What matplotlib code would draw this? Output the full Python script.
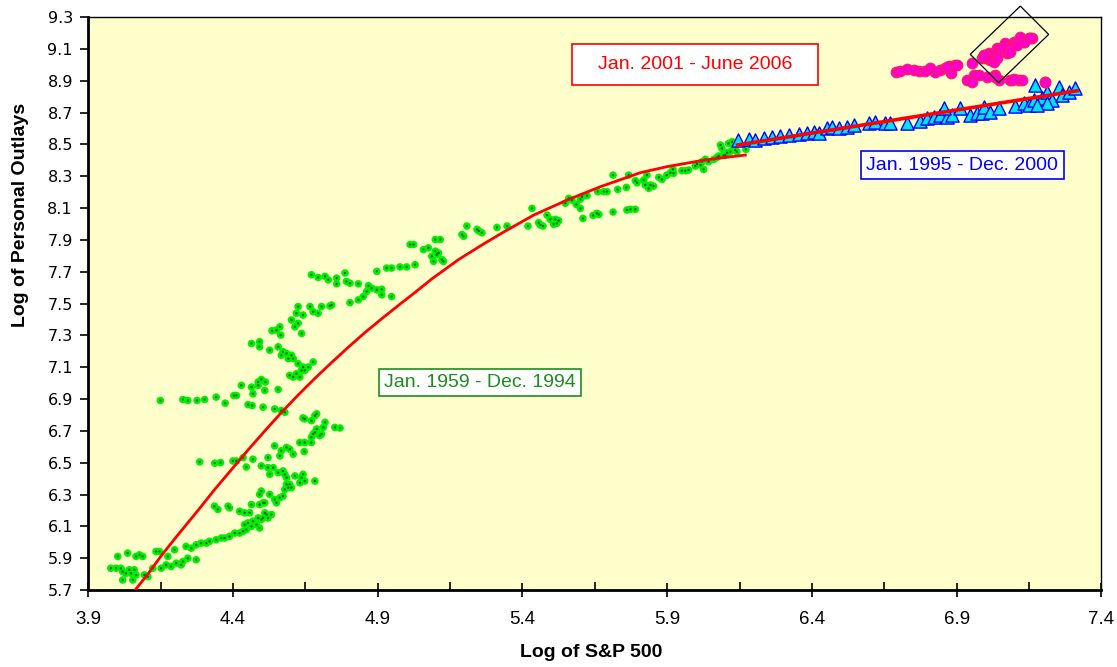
import numpy as np
import matplotlib
matplotlib.use("Agg")
import matplotlib.pyplot as plt
from matplotlib.patches import Polygon, Rectangle

# Jan. 1959 - Dec. 1994 (green)
g_x = [3.978, 3.996, 4.002, 4.013, 4.019, 4.019, 4.030, 4.036, 4.042, 4.048, 4.054, 4.059, 4.065, 4.065,
       4.077, 4.088, 4.094, 4.106, 4.123, 4.134, 4.146, 4.152, 4.169, 4.175, 4.186, 4.198, 4.204, 4.221,
       4.227, 4.238, 4.244, 4.256, 4.273, 4.273, 4.290, 4.308, 4.319, 4.342, 4.360, 4.371, 4.388, 4.406,
       4.423, 4.435, 4.440, 4.446, 4.452, 4.464, 4.469, 4.481, 4.487, 4.492, 4.498, 4.504, 4.510, 4.516,
       4.521, 4.533, 4.336, 4.348, 4.383, 4.388, 4.423, 4.440, 4.458, 4.464, 4.492, 4.492, 4.498, 4.504,
       4.510, 4.527, 4.544, 4.550, 4.562, 4.573, 4.579, 4.585, 4.591, 4.596, 4.602, 4.573, 4.579, 4.585,
       4.521, 4.527, 4.539, 4.556, 4.614, 4.631, 4.637, 4.642, 4.648, 4.683,
       4.285, 4.337, 4.357, 4.400, 4.412, 4.435, 4.446, 4.469, 4.498, 4.521, 4.544, 4.562, 4.567, 4.585,
       4.596, 4.608, 4.631, 4.646, 4.648, 4.671, 4.671, 4.677, 4.683, 4.689, 4.700, 4.706, 4.712, 4.718,
       4.642, 4.648, 4.671, 4.683, 4.689, 4.752, 4.770,
       4.149, 4.227, 4.244, 4.276, 4.302, 4.342, 4.373, 4.403, 4.412, 4.429, 4.452, 4.464, 4.466, 4.469,
       4.487, 4.487, 4.498, 4.510, 4.512, 4.504, 4.544, 4.556, 4.567, 4.579,
       4.464, 4.492, 4.492, 4.527, 4.535, 4.550, 4.562, 4.565, 4.556, 4.573, 4.567, 4.585, 4.591, 4.602,
       4.608, 4.596, 4.608, 4.619, 4.625, 4.631, 4.637, 4.642, 4.648, 4.660, 4.677, 4.625, 4.625, 4.614,
       4.602, 4.619, 4.637, 4.642, 4.666, 4.677, 4.694, 4.706, 4.735, 4.741, 4.671, 4.694, 4.718, 4.729,
       4.758, 4.758, 4.787, 4.792, 4.804, 4.833, 4.804, 4.833, 4.850, 4.862, 4.868, 4.879, 4.897, 4.914,
       4.914, 4.948, 4.897, 4.931, 4.948, 4.977, 5.000, 5.029, 5.012, 5.024, 5.058, 5.075, 5.087, 5.093,
       5.099, 5.099, 5.104, 5.110, 5.116, 5.122, 5.127, 5.191, 5.197, 5.208, 5.243, 5.249, 5.260, 5.312,
       5.347, 5.419, 5.433, 5.456, 5.462, 5.471, 5.485, 5.496, 5.508, 5.514, 5.525, 5.519, 5.548, 5.560,
       5.571, 5.586, 5.600, 5.606, 5.600, 5.609, 5.623, 5.644, 5.657, 5.664, 5.660, 5.681, 5.692, 5.713,
       5.713, 5.729, 5.759, 5.767, 5.761, 5.773, 5.790, 5.790, 5.796, 5.819, 5.830, 5.824, 5.836, 5.842,
       5.853, 5.871, 5.882, 5.899, 5.911, 5.920, 5.922, 5.951, 5.963, 5.974, 5.997, 6.003, 6.015, 6.020,
       6.026, 6.032, 6.043, 6.061, 6.072, 6.078, 6.084, 6.089, 6.095, 6.101, 6.107, 6.112, 6.118, 6.124,
       6.130, 6.135, 6.141, 6.172]
g_y = [5.837, 5.837, 5.911, 5.837, 5.816, 5.763, 5.805, 5.932, 5.827, 5.805, 5.763, 5.827, 5.911, 5.795,
       5.921, 5.911, 5.795, 5.784, 5.837, 5.942, 5.942, 5.837, 5.858, 5.911, 5.848, 5.953, 5.869, 5.858,
       5.879, 5.974, 5.900, 5.963, 5.984, 5.890, 5.995, 5.995, 6.006, 6.016, 6.027, 6.027, 6.037, 6.058,
       6.058, 6.069, 6.111, 6.079, 6.122, 6.100, 6.132, 6.111, 6.153, 6.090, 6.143, 6.153, 6.185, 6.174,
       6.153, 6.174, 6.227, 6.206, 6.227, 6.216, 6.195, 6.185, 6.185, 6.237, 6.237, 6.301, 6.322, 6.248,
       6.248, 6.301, 6.269, 6.248, 6.280, 6.290, 6.332, 6.364, 6.343, 6.364, 6.343, 6.448, 6.427, 6.406,
       6.469, 6.427, 6.469, 6.437, 6.417, 6.374, 6.406, 6.427, 6.385, 6.385,
       6.505, 6.497, 6.501, 6.511, 6.511, 6.532, 6.473, 6.522, 6.480, 6.532, 6.606, 6.543, 6.575, 6.596,
       6.585, 6.554, 6.627, 6.570, 6.627, 6.627, 6.659, 6.680, 6.691, 6.712, 6.670, 6.680, 6.722, 6.754,
       6.781, 6.775, 6.764, 6.796, 6.807, 6.722, 6.718,
       6.891, 6.897, 6.891, 6.891, 6.897, 6.912, 6.874, 6.922, 6.922, 6.986, 6.865, 6.975, 6.859, 6.933,
       7.007, 6.986, 7.023, 6.954, 7.007, 6.849, 6.838, 6.960, 6.828, 6.817,
       7.249, 7.260, 7.228, 7.207, 7.329, 7.333, 7.354, 7.302, 7.228, 7.197, 7.175, 7.186, 7.154, 7.175,
       7.154, 7.049, 7.038, 7.059, 7.122, 7.038, 7.080, 7.101, 7.080, 7.101, 7.133, 7.481, 7.376, 7.354,
       7.397, 7.439, 7.312, 7.428, 7.481, 7.449, 7.439, 7.481, 7.485, 7.491, 7.681, 7.664, 7.671, 7.649,
       7.660, 7.624, 7.692, 7.639, 7.628, 7.624, 7.506, 7.523, 7.544, 7.576, 7.612, 7.597, 7.586, 7.590,
       7.555, 7.544, 7.702, 7.723, 7.723, 7.730, 7.730, 7.744, 7.871, 7.871, 7.839, 7.850, 7.797, 7.765,
       7.829, 7.902, 7.807, 7.818, 7.902, 7.776, 7.765, 7.934, 7.923, 7.987, 7.966, 7.956, 7.945, 7.978,
       7.987, 7.987, 8.098, 8.008, 7.993, 7.987, 8.056, 8.029, 7.998, 8.029, 8.021, 8.004, 8.130, 8.161,
       8.150, 8.123, 8.155, 8.171, 8.098, 8.035, 8.178, 8.054, 8.067, 8.060, 8.203, 8.203, 8.203, 8.307,
       8.075, 8.217, 8.230, 8.307, 8.088, 8.092, 8.092, 8.272, 8.259, 8.276, 8.307, 8.245, 8.224, 8.245,
       8.238, 8.293, 8.280, 8.307, 8.322, 8.343, 8.318, 8.335, 8.335, 8.339, 8.364, 8.377, 8.370, 8.391,
       8.343, 8.406, 8.391, 8.406, 8.418, 8.427, 8.496, 8.475, 8.433, 8.433, 8.448, 8.506, 8.454, 8.517,
       8.486, 8.465, 8.454, 8.469]

# fitted curve for 1959-1994
g_fit_x = [4.062, 4.106, 4.152, 4.209, 4.279, 4.336, 4.394, 4.452, 4.510, 4.567, 4.625, 4.683, 4.741,
           4.798, 4.856, 4.914, 4.983, 5.029, 5.087, 5.179, 5.260, 5.330, 5.439, 5.554, 5.669, 5.807,
           5.899, 6.015, 6.072, 6.170]
g_fit_y = [5.700, 5.800, 5.915, 6.045, 6.200, 6.330, 6.455, 6.580, 6.700, 6.815, 6.925, 7.030, 7.130,
           7.225, 7.318, 7.405, 7.505, 7.570, 7.655, 7.776, 7.868, 7.944, 8.056, 8.150, 8.234, 8.322,
           8.360, 8.397, 8.412, 8.433]

# Jan. 1995 - Dec. 2000 (blue triangles)
b_x = [6.143, 6.181, 6.205, 6.233, 6.262, 6.291, 6.320, 6.354, 6.383, 6.406, 6.423, 6.452, 6.469, 6.492,
       6.521, 6.544, 6.596, 6.619, 6.654, 6.671, 6.729, 6.775, 6.798, 6.821, 6.844, 6.867, 6.884, 6.855,
       6.913, 6.947, 6.970, 6.988, 6.993, 7.016, 7.045, 7.103, 7.132, 7.149, 7.166, 7.172, 7.195, 7.212,
       7.230, 7.253, 7.264, 7.287, 7.310, 7.212, 7.178]
b_y = [8.527, 8.532, 8.527, 8.538, 8.544, 8.553, 8.559, 8.565, 8.569, 8.580, 8.573, 8.601, 8.611, 8.601,
       8.611, 8.622, 8.632, 8.643, 8.636, 8.632, 8.636, 8.649, 8.664, 8.670, 8.684, 8.674, 8.684, 8.726,
       8.726, 8.684, 8.695, 8.695, 8.737, 8.705, 8.726, 8.741, 8.758, 8.747, 8.779, 8.873, 8.789, 8.831,
       8.779, 8.862, 8.810, 8.831, 8.852, 8.758, 8.747]
b_fit_x = [6.143, 7.316]
b_fit_y = [8.496, 8.837]

# Jan. 2001 - June 2006 (magenta circles)
m_x = [6.692, 6.705, 6.729, 6.752, 6.769, 6.792, 6.809, 6.826, 6.844, 6.861, 6.872, 6.884, 6.881, 6.896,
       6.936, 6.953, 6.959, 6.976, 6.993, 6.999, 7.005, 7.011, 7.022, 7.028, 7.034, 7.040, 7.045, 7.051,
       7.063, 7.068, 7.074, 7.086, 7.091, 7.097, 7.103, 7.114, 7.120, 7.126, 7.132, 7.149, 7.160, 7.206,
       6.988, 7.016, 7.057, 6.993, 7.022, 7.028, 7.040, 7.074, 7.086, 7.109, 7.132, 7.155, 6.953, 7.034,
       7.086, 7.097, 7.207, 6.867, 6.901]
m_y = [8.957, 8.963, 8.974, 8.967, 8.961, 8.963, 8.978, 8.957, 8.967, 8.982, 8.992, 8.988, 8.946, 8.999,
       8.904, 9.009, 8.936, 8.936, 9.061, 9.041, 8.925, 9.072, 9.066, 9.041, 8.936, 9.103, 8.904, 9.082,
       9.093, 9.135, 9.082, 9.114, 8.904, 9.145, 9.124, 8.904, 9.177, 8.904, 9.145, 9.166, 9.166, 8.894,
       9.041, 9.030, 9.103, 9.061, 9.030, 9.020, 9.040, 9.072, 9.082, 9.124, 9.145, 9.166, 8.894, 8.925,
       8.904, 8.909, 8.890, 8.988, 8.999]

# tilted box around the latest points
box_x = [7.120, 7.218, 7.045, 6.947]
box_y = [9.369, 9.191, 8.888, 9.066]

x_ticks = np.arange(3.9, 7.41, 0.5)
y_ticks = np.arange(5.7, 9.31, 0.2)

fig = plt.figure(figsize=(11.17, 6.67), dpi=100)
ax = fig.add_axes([0.079, 0.1154, 0.907, 0.859])
ax.set_facecolor('#FFFFCC')

ax.scatter(g_x, g_y, s=30, marker='o', color='#00F000', edgecolors='none', zorder=3)
ax.scatter(g_x, g_y, s=3, marker='o', color='#006600', edgecolors='none', zorder=3)
ax.plot(g_fit_x, g_fit_y, color='#FF0000', lw=2.0, zorder=4)

ax.scatter(b_x, b_y, s=90, marker='^', color='#00E5F5', edgecolors='#0000FF', linewidths=1.0, zorder=5)
ax.plot(b_fit_x, b_fit_y, color='#FF0000', lw=2.6, zorder=6)

ax.scatter(m_x, m_y, s=58, marker='o', color='#FF00CC', edgecolors='#FF1A66', linewidths=0.8, zorder=5)

ax.add_patch(Polygon(list(zip(box_x, box_y)), closed=True, fill=False, edgecolor='black', lw=0.9,
                     clip_on=False, zorder=7))

# red label box is wider than its text, so draw the frame separately
ax.add_patch(Rectangle((5.572, 8.873), 0.850, 0.258, fc='white', ec='#FF0000', lw=1.2, zorder=8))
ax.text(5.997, 9.002, 'Jan. 2001 - June 2006', color='#FF0000', fontsize=14, family='Liberation Sans',
        ha='center', va='center', zorder=9)
ax.text(6.920, 8.370, 'Jan. 1995 - Dec. 2000', color='#0000FF', fontsize=14, family='Liberation Sans',
        ha='center', va='center', zorder=8,
        bbox=dict(boxstyle='square,pad=0.28', fc='white', ec='#0000FF', lw=1.2))
ax.text(5.254, 7.004, 'Jan. 1959 - Dec. 1994', color='#1E8C1E', fontsize=14, family='Liberation Sans',
        ha='center', va='center', zorder=8,
        bbox=dict(boxstyle='square,pad=0.25', fc='white', ec='#1E8C1E', lw=1.2))

ax.set_xlim(3.9, 7.4)
ax.set_ylim(5.7, 9.3)
ax.set_xticks(x_ticks)
ax.set_xticklabels([f'{v:.1f}' for v in x_ticks], family='Liberation Sans', fontsize=13.5)
ax.set_xticks(np.arange(4.15, 7.4, 0.5), minor=True)
ax.set_yticks(y_ticks)
ax.set_yticklabels([f'{v:.1f}' for v in y_ticks], family='DejaVu Sans', fontsize=11.5)
ax.tick_params(axis='x', which='major', direction='inout', length=10, width=1.2, pad=10)
ax.tick_params(axis='x', which='minor', direction='in', length=6, width=1.2)
ax.tick_params(axis='y', which='major', direction='out', length=6, width=1.2, pad=5)

for side in ['left', 'bottom']:
    ax.spines[side].set_linewidth(2)
for side in ['top', 'right']:
    ax.spines[side].set_linewidth(1)

ax.set_xlabel('Log of S&P 500', family='Liberation Sans', fontsize=14, fontweight='bold')
ax.xaxis.set_label_coords(0.4966, -0.095)
ax.set_ylabel('Log of Personal Outlays', family='Liberation Sans', fontsize=14, fontweight='bold')
ax.yaxis.set_label_coords(-0.058, 0.654)

fig.savefig('out.png', dpi=100)
